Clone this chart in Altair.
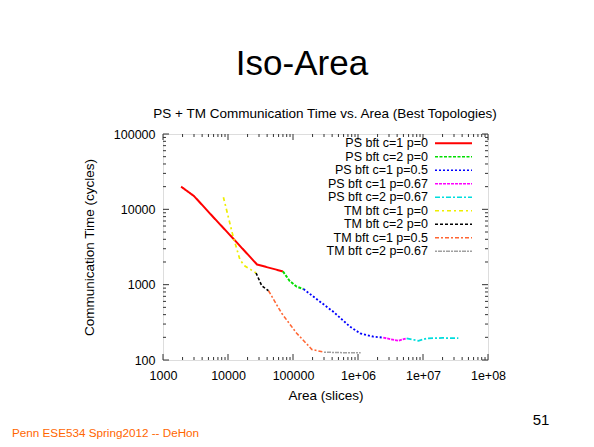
import altair as alt
import pandas as pd

FONT = "Liberation Sans"

names = ["PS bft c=1 p=0", "PS bft c=2 p=0", "PS bft c=1 p=0.5", "PS bft c=1 p=0.67",
         "PS bft c=2 p=0.67", "TM bft c=1 p=0", "TM bft c=2 p=0", "TM bft c=1 p=0.5",
         "TM bft c=2 p=0.67"]
colors = ["#ff0000", "#00dd00", "#0000ff", "#ff00ff", "#00dddd", "#eeee00", "#000000",
          "#ff6633", "#a0a0a0"]
dashes = [[1, 0], [3, 1.5], [2, 2], [3, 1], [5, 2, 2, 2], [4, 3, 2, 3], [3, 2],
          [4, 2, 2, 2], [2, 1, 4, 1]]
widths = [2, 1.5, 1.5, 1.5, 1.5, 1.5, 1.5, 1.5, 1.5]

ps_c1_p0_area = [1900, 3000, 6000, 12000, 28000, 70000]
ps_c1_p0_time = [20000, 15000, 7800, 4100, 1850, 1500]
ps_c2_p0_area = [70000, 89000, 114000, 145000]
ps_c2_p0_time = [1500, 1120, 940, 875]
ps_c1_p05_area = [145000, 250000, 417000, 753000, 1080000, 1720000, 2450000]
ps_c1_p05_time = [875, 611, 437, 277, 226, 204, 198]
ps_c1_p067_area = [2450000, 4170000, 5600000]
ps_c1_p067_time = [198, 180, 194]
ps_c2_p067_area = [5600000, 8500000, 11500000, 20000000, 35000000]
ps_c2_p067_time = [194, 180, 194, 196, 195]
tm_c1_p0_area = [8500, 12000, 15300, 18200, 27000]
tm_c1_p0_time = [14500, 4350, 2130, 1770, 1430]
tm_c2_p0_area = [27000, 33000, 42000]
tm_c2_p0_time = [1430, 970, 830]
tm_c1_p05_area = [42000, 67000, 114000, 160000, 195000, 300000]
tm_c1_p05_time = [830, 417, 226, 166, 138, 127]
tm_c2_p067_area = [300000, 600000, 1100000]
tm_c2_p067_time = [127, 125, 125]

series_area = [ps_c1_p0_area, ps_c2_p0_area, ps_c1_p05_area, ps_c1_p067_area, ps_c2_p067_area,
               tm_c1_p0_area, tm_c2_p0_area, tm_c1_p05_area, tm_c2_p067_area]
series_time = [ps_c1_p0_time, ps_c2_p0_time, ps_c1_p05_time, ps_c1_p067_time, ps_c2_p067_time,
               tm_c1_p0_time, tm_c2_p0_time, tm_c1_p05_time, tm_c2_p067_time]

x_ticks = [1000, 10000, 100000, 1000000, 10000000, 100000000]
y_ticks = [100, 1000, 10000, 100000]

rows = []
for n, xs, ys in zip(names, series_area, series_time):
    for i, (a, t) in enumerate(zip(xs, ys)):
        rows.append({"series": n, "area": a, "time": t, "order": i})
df = pd.DataFrame(rows)

x_major = pd.DataFrame({"area": x_ticks})
x_minor = pd.DataFrame({"area": [k * v for v in x_ticks[:-1] for k in range(2, 10)]})
y_major = pd.DataFrame({"time": y_ticks})
y_minor = pd.DataFrame({"time": [k * v for v in y_ticks[:-1] for k in range(2, 10)]})

W, H = 325, 226
xscale = alt.Scale(type="log", domain=[1000, 100000000], nice=False)
yscale = alt.Scale(type="log", domain=[100, 100000], nice=False)

xaxis = alt.Axis(values=x_ticks, ticks=False, domain=False, grid=False,
                 labelExpr="datum.value >= 1000000 ? '1e+0' + format(log(datum.value)/LN10, '.0f') : format(datum.value, 'd')",
                 labelFont=FONT, labelFontSize=12.5, labelColor="black", labelPadding=9,
                 labelFlush=False,
                 title="Area (slices)", titleFont=FONT, titleFontSize=13.5, titleFontWeight="normal",
                 titleColor="black", titleX=W / 2, titleY=35, titleBaseline="middle", titleAlign="center")
yaxis = alt.Axis(values=y_ticks, ticks=False, domain=False, grid=False,
                 labelExpr="format(datum.value, 'd')",
                 labelFont=FONT, labelFontSize=12.5, labelColor="black", labelPadding=8,
                 labelFlush=False,
                 title="Communication Time (cycles)", titleFont=FONT, titleFontSize=13.5,
                 titleFontWeight="normal", titleColor="black", titleX=-74, titleY=H / 2,
                 titleBaseline="middle", titleAlign="center", titleAngle=-90)

lines = alt.Chart(df).mark_line(clip=True).encode(
    x=alt.X("area:Q", scale=xscale, axis=xaxis),
    y=alt.Y("time:Q", scale=yscale, axis=yaxis),
    color=alt.Color("series:N", scale=alt.Scale(domain=names, range=colors), legend=None),
    strokeDash=alt.StrokeDash("series:N", scale=alt.Scale(domain=names, range=dashes), legend=None),
    strokeWidth=alt.StrokeWidth("series:N", scale=alt.Scale(domain=names, range=widths), legend=None),
    order="order:Q",
)

layers = [lines]
tick_color = "#333333"
for d, L in [(x_major, 6), (x_minor, 3)]:
    layers.append(alt.Chart(d).mark_rule(color=tick_color, strokeWidth=1).encode(
        x=alt.X("area:Q", scale=xscale), y=alt.value(H), y2=alt.value(H - L)))
    layers.append(alt.Chart(d).mark_rule(color=tick_color, strokeWidth=1).encode(
        x=alt.X("area:Q", scale=xscale), y=alt.value(0), y2=alt.value(L)))
for d, L in [(y_major, 6), (y_minor, 3)]:
    layers.append(alt.Chart(d).mark_rule(color=tick_color, strokeWidth=1).encode(
        y=alt.Y("time:Q", scale=yscale), x=alt.value(0), x2=alt.value(L)))
    layers.append(alt.Chart(d).mark_rule(color=tick_color, strokeWidth=1).encode(
        y=alt.Y("time:Q", scale=yscale), x=alt.value(W), x2=alt.value(W - L)))

# in-plot legend (gnuplot style: label left, sample right)
for i, (n, c, dsh, w) in enumerate(zip(names, colors, dashes, widths)):
    yy = 9.3 + 13.5 * i
    ld = pd.DataFrame({"s": [n]})
    layers.append(alt.Chart(ld).mark_text(align="right", baseline="middle", font=FONT,
                                          fontSize=12.5, color="black").encode(
        text="s:N", x=alt.value(265), y=alt.value(yy)))
    layers.append(alt.Chart(ld).mark_rule(color=c, strokeDash=dsh, strokeWidth=w).encode(
        x=alt.value(272), x2=alt.value(309), y=alt.value(yy)))

# slide texts
def txt(s, x, y, size, color="black", align="center"):
    return alt.Chart(pd.DataFrame({"s": [s]})).mark_text(
        align=align, baseline="alphabetic", font=FONT, fontSize=size, color=color).encode(
        text="s:N", x=alt.value(x), y=alt.value(y))

layers.append(txt("Iso-Area", 139, -59, 35))
layers.append(txt("PS + TM Communication Time vs. Area (Best Topologies)", 162, -16, 13.5))
layers.append(txt("Penn ESE534 Spring2012 -- DeHon", -151, 303, 11.7, color="#ff6600", align="left"))
layers.append(txt("51", 378, 291, 15))

# slide border
border = pd.DataFrame({"k": [0]})
layers.append(alt.Chart(border).mark_rule(color="black", strokeWidth=2.5).encode(
    x=alt.value(-157), x2=alt.value(431), y=alt.value(-128)))
layers.append(alt.Chart(border).mark_rule(color="black", strokeWidth=2.5).encode(
    x=alt.value(-156.5), y=alt.value(-129), y2=alt.value(313)))

chart = alt.layer(*layers).properties(
    width=W, height=H,
    autosize=alt.AutoSizeParams(type="none"),
    padding={"left": 155, "top": 126, "right": 98, "bottom": 79},
).configure_view(stroke="#333333", strokeWidth=1).configure(font=FONT)

chart.save("out.html", embed_options={"renderer": "svg", "actions": False})
